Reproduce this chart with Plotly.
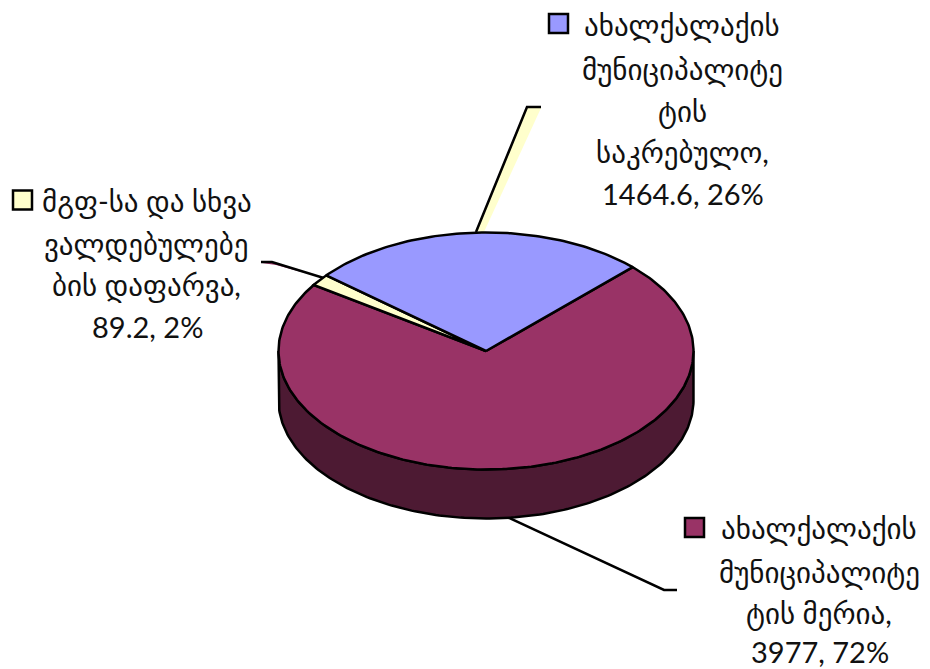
import numpy as np
import plotly.graph_objects as go

# ---- data ----
series_names = ["მერია", "მგფ", "საკრებულო"]
series_values = [3977, 89.2, 1464.6]
label_lines = [
    ["ახალქალაქის", "მუნიციპალიტე", "ტის მერია,"],
    ["მგფ-სა და სხვა", "ვალდებულებე", "ბის დაფარვა,"],
    ["ახალქალაქის", "მუნიციპალიტე", "ტის", "საკრებულო,"],
]
top_colors = ["#993366", "#FFFFCC", "#9999FF"]
wall_color = "#4D1A33"

# ---- layout constants (pixels of the 930x669 page; the page body has an 8px inset) ----
W, H = 930, 669
INSET = 8
CX, CY, RX, RY, DEPTH = 486, 351, 207.5, 118.5, 49
START = 45.0
FONT = "Lato, Carlito, DejaVu Sans, sans-serif"
FS = 29
INK = "#111111"

label_pos = [
    dict(key=(694.5, 527.5), xs=[819, 819, 819, 820], ys=[528, 572, 613, 651]),
    dict(key=(22.5, 200), xs=[147, 146, 146, 147], ys=[201, 244, 285, 326]),
    dict(key=(558.5, 23.5), xs=[682, 682, 682, 682, 683], ys=[25, 69, 111, 152, 193]),
]


def pt(a):
    r = np.radians(a)
    return CX + RX * np.sin(r), CY - RY * np.cos(r)


fig = go.Figure()

# side wall: the visible front half of the rim
a = np.linspace(90, 270, 181)
x, y = pt(a)
fig.add_trace(go.Scatter(
    x=np.r_[x, x[::-1], x[0]], y=np.r_[y, y[::-1] + DEPTH, y[0]],
    mode="lines", fill="toself", fillcolor=wall_color,
    line=dict(color="#000000", width=2.5), hoverinfo="skip", showlegend=False))

# top slices, angles come from the values
total = sum(series_values)
angle = START
for name, v, c in zip(series_names, series_values, top_colors):
    sweep = 360 * v / total
    a = np.linspace(angle, angle + sweep, max(int(sweep), 2) + 1)
    x, y = pt(a)
    fig.add_trace(go.Scatter(
        x=np.r_[CX, x, CX], y=np.r_[CY, y, CY],
        mode="lines", fill="toself", fillcolor=c, name=name,
        line=dict(color="#000000", width=2.5), showlegend=False))
    angle += sweep

shapes = []
# leader lines with their soft coloured edge
shapes.append(dict(type="path", path="M 527 108 L 541 108 L 484 232 L 476 232 Z",
                   fillcolor="#FFFFCC", line=dict(width=0), layer="below"))
shapes.append(dict(type="path", path="M 262 263 L 272 262 L 305 273 L 276 265 Z",
                   fillcolor="#993366", line=dict(width=0), layer="below"))
for p in ["M 476 232 L 527 107 L 541 107",
          "M 507 517 L 664 590 L 677 590",
          "M 327 279 L 272 262 L 261 262"]:
    shapes.append(dict(type="path", path=p, line=dict(color="#000000", width=2.5), layer="below"))

annotations = []
for i, (lines, v, c, pos) in enumerate(zip(label_lines, series_values, top_colors, label_pos)):
    kx, ky = pos["key"]
    shapes.append(dict(type="rect", x0=kx - 9.5, x1=kx + 9.5, y0=ky - 9.5, y1=ky + 9.5,
                       fillcolor=c, line=dict(color="#000000", width=2.5)))
    text = lines + [f"{v}, {round(100 * v / total)}%"]
    for t, lx, ly in zip(text, pos["xs"], pos["ys"]):
        annotations.append(dict(x=lx, y=ly, text=t, showarrow=False, xanchor="center", yanchor="middle",
                                font=dict(family=FONT, size=FS, color=INK)))

fig.update_layout(
    width=W - INSET, height=H - INSET, margin=dict(l=0, r=0, t=0, b=0, pad=0),
    paper_bgcolor="#FFFFFF", plot_bgcolor="#FFFFFF", showlegend=False,
    xaxis=dict(range=[INSET, W], visible=False, fixedrange=True),
    yaxis=dict(range=[H, INSET], visible=False, fixedrange=True),
    shapes=shapes, annotations=annotations,
)
fig.write_html("out.html", config=dict(displayModeBar=False))
